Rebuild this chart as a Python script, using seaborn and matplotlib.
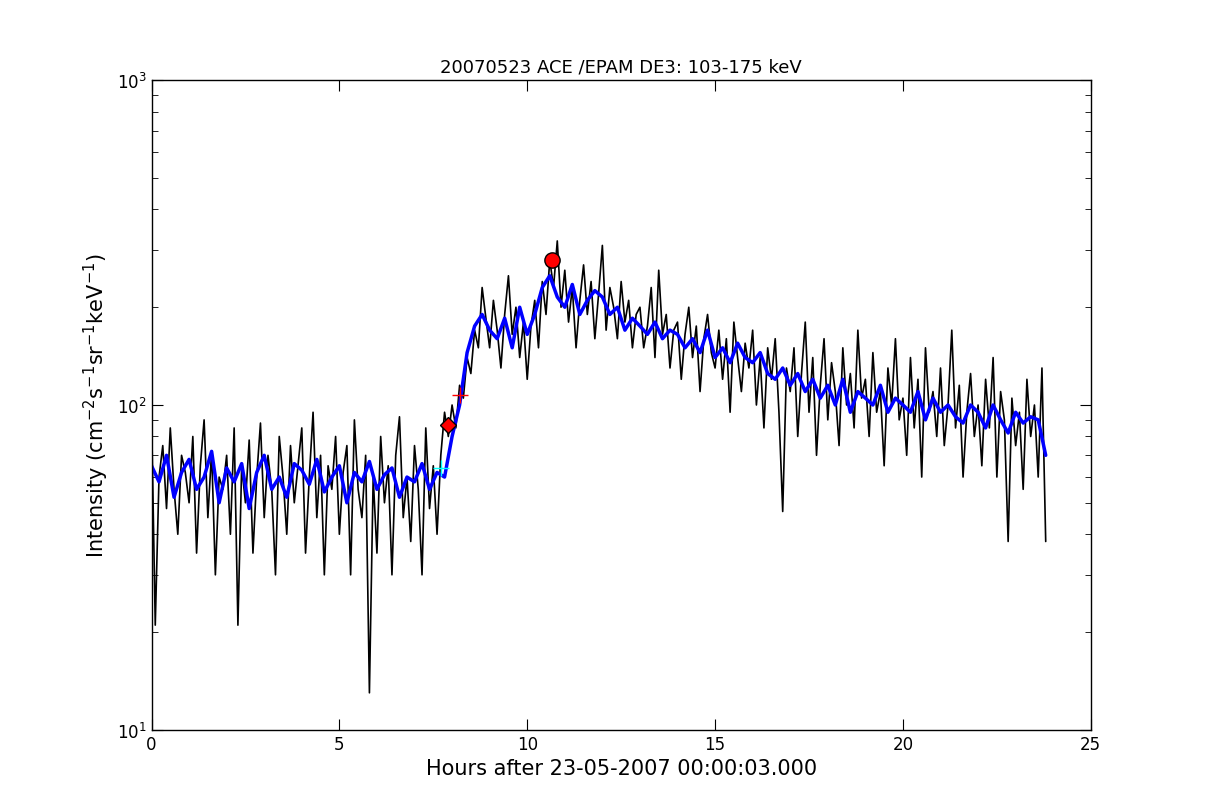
import numpy as np
import pandas as pd
import matplotlib
matplotlib.use("Agg")
import matplotlib.pyplot as plt
import seaborn as sns

black_vals = [
95,21,60,75,48,85,55,40,70,62,
50,80,35,65,90,45,72,30,60,55,
70,40,85,21,65,50,78,35,60,88,
45,70,55,30,80,60,40,75,50,65,
85,35,60,95,45,70,30,65,55,80,
40,62,75,30,90,55,45,70,13,60,
35,80,50,65,30,70,92,45,60,38,
75,55,30,85,48,65,40,70,95,80,
100,85,115,105,140,125,170,150,230,185,
150,210,170,130,190,250,165,200,140,180,
120,175,210,150,240,190,280,230,320,200,
260,180,230,150,210,270,190,240,160,220,
310,170,230,200,160,240,180,210,150,190,
200,150,175,230,140,260,165,190,130,170,
180,120,165,200,140,175,110,160,190,145,
130,170,120,160,95,180,140,110,155,130,
170,100,140,85,150,120,160,95,47,130,
110,150,80,125,180,95,140,70,115,160,
90,135,110,75,150,100,125,85,170,105,
120,80,145,95,110,65,130,100,160,90,
105,70,140,85,120,60,150,95,110,80,
130,75,100,170,85,115,60,95,125,80,
100,65,120,85,140,60,110,90,38,105,
75,95,55,120,80,100,60,130,38]
black_step = 0.1

blue_vals = [
65,58,70,52,62,68,55,60,72,50,64,58,66,48,62,70,55,60,52,66,
63,57,68,54,60,65,50,62,58,67,55,61,64,52,60,58,66,55,62,60,
80,100,145,175,190,170,160,185,150,200,
165,190,230,250,215,200,235,190,210,225,
215,190,200,170,185,175,165,180,160,170,
165,150,160,145,170,140,150,135,155,140,
135,145,125,120,130,115,125,110,120,105,
115,100,120,95,110,105,100,115,95,105,
100,95,110,90,105,95,100,92,88,100,
95,85,100,90,82,95,88,92,90,70]
blue_step = 0.2

peak_x, peak_y = [10.65], [280]
onset_x, onset_y = [7.9], [87]
plus_red_x, plus_red_y = [8.2], [107]
plus_cyan_x, plus_cyan_y = [7.7], [64]

df_b = pd.DataFrame({"t": np.arange(len(black_vals)) * black_step, "v": black_vals})
df_u = pd.DataFrame({"t": np.arange(len(blue_vals)) * blue_step, "v": blue_vals})

sns.set_style("white")
plt.rcParams.update({"text.color": "black", "axes.labelcolor": "black",
                     "xtick.color": "black", "ytick.color": "black"})
fig = plt.figure(figsize=(12.12, 8.12), dpi=100)
ax = fig.add_axes([0.125, 0.1, 0.775, 0.8])
sns.lineplot(data=df_b, x="t", y="v", color="black", lw=1.2, ax=ax)
sns.lineplot(data=df_u, x="t", y="v", color="blue", lw=2.5, ax=ax)
ax.plot(peak_x, peak_y, "o", color="red", ms=11, mec="black")
ax.plot(onset_x, onset_y, "D", color="red", ms=8, mec="black")
ax.plot(plus_red_x, plus_red_y, "+", color="red", ms=12, mew=1)
ax.plot(plus_cyan_x, plus_cyan_y, "+", color="cyan", ms=12, mew=1)
ax.set_yscale("log")
ax.set_xlim(0, 25)
ax.set_ylim(10, 1000)
ax.set_title("20070523 ACE /EPAM DE3: 103-175 keV", fontsize=13, color="black")
ax.set_xlabel("Hours after 23-05-2007 00:00:03.000", fontsize=15, color="black")
ax.set_ylabel(r"Intensity (cm$^{-2}$s$^{-1}$sr$^{-1}$keV$^{-1}$)", fontsize=15, color="black")
for s in ax.spines.values():
    s.set_color("black")
    s.set_linewidth(1)
ax.tick_params(which="both", direction="in", top=True, right=True, left=True, bottom=True,
               labelsize=12, colors="black")
ax.tick_params(which="major", length=8)
ax.tick_params(which="minor", length=4)
fig.savefig("out.png", dpi=100, facecolor="white")
